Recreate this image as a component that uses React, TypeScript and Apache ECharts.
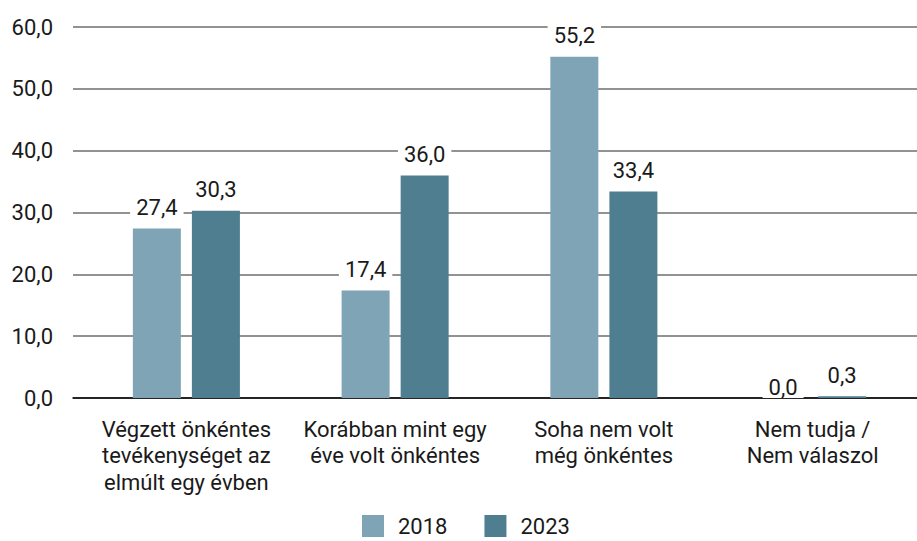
import React, { useEffect, useRef } from "react";
import * as echarts from "echarts";

const categories = [
  "Végzett önkéntes\ntevékenységet az\nelmúlt egy évben",
  "Korábban mint egy\néve volt önkéntes",
  "Soha nem volt\nmég önkéntes",
  "Nem tudja /\nNem válaszol",
];
const seriesNames = ["2018", "2023"];
const values2018 = [27.4, 17.4, 55.2, 0.0];
const values2023 = [30.3, 36.0, 33.4, 0.3];
const yTicks = { min: 0, max: 60, interval: 10 };

const FONT = "Roboto, 'Noto Sans', sans-serif";
const COLORS = ["#7fa4b6", "#4f7e91"];
const FS = 22;

const fmt = (v: number) => v.toFixed(1).replace(".", ",");

export default function App() {
  const ref = useRef<HTMLDivElement>(null);
  useEffect(() => {
    if (!ref.current) return;
    const chart = echarts.init(ref.current, undefined, { renderer: "svg" });
    const labelCfg = {
      show: true,
      position: "top",
      distance: 8,
      fontFamily: FONT,
      fontSize: FS,
      color: "#1a1a1a",
      backgroundColor: "#ffffff",
      padding: [2, 6],
      formatter: (p: any) => fmt(p.value),
    };
    const mkData = (arr: number[]) =>
      arr.map((v) => (v === 0 ? { value: v, label: { distance: 0, padding: [0, 6] } } : { value: v }));
    chart.setOption({
      animation: false,
      textStyle: { fontFamily: FONT },
      grid: [
        { left: 73, right: 0, top: 27, height: 371 },
        { left: 82, right: -3, top: 27, height: 371 },
      ],
      legend: {
        data: seriesNames,
        left: 362,
        top: 515,
        padding: 0,
        itemWidth: 22,
        itemHeight: 22,
        itemGap: 37,
        icon: "rect",
        textStyle: { fontFamily: FONT, fontSize: FS, color: "#1a1a1a", padding: [0, 0, 0, 9], lineHeight: 22 },
      },
      xAxis: [
        {
          gridIndex: 0,
          type: "category",
          data: [""],
          axisLine: { show: true, lineStyle: { color: "#000", width: 1.5 } },
          axisTick: { show: false },
          axisLabel: { show: false },
        },
        {
          gridIndex: 1,
          type: "category",
          data: categories,
          axisLine: { show: false },
          axisTick: { show: false },
          axisLabel: {
            margin: 18,
            fontFamily: FONT,
            fontSize: FS,
            lineHeight: 26.5,
            color: "#1a1a1a",
            interval: 0,
          },
        },
      ],
      yAxis: [
        {
          gridIndex: 0,
          type: "value",
          min: yTicks.min,
          max: yTicks.max,
          interval: yTicks.interval,
          axisLine: { show: false },
          axisTick: { show: false },
          axisLabel: {
            margin: 20,
            fontFamily: FONT,
            fontSize: FS,
            color: "#1a1a1a",
            formatter: (v: number) => fmt(v),
          },
          splitLine: { show: true, lineStyle: { color: "#6e6e6e", width: 1.5 } },
        },
        {
          gridIndex: 1,
          type: "value",
          min: yTicks.min,
          max: yTicks.max,
          interval: yTicks.interval,
          show: false,
          splitLine: { show: false },
        },
      ],
      series: [
        {
          name: seriesNames[0],
          type: "bar",
          xAxisIndex: 1,
          yAxisIndex: 1,
          data: mkData(values2018),
          barWidth: 48,
          barGap: "23%",
          itemStyle: { color: COLORS[0] },
          label: labelCfg,
          z: 3,
        },
        {
          name: seriesNames[1],
          type: "bar",
          xAxisIndex: 1,
          yAxisIndex: 1,
          data: mkData(values2023),
          barWidth: 48,
          barGap: "23%",
          itemStyle: { color: COLORS[1] },
          label: labelCfg,
          z: 3,
        },
      ],
    });
    return () => chart.dispose();
  }, []);
  return (
    <div
      ref={ref}
      style={{ position: "fixed", left: 0, top: 0, width: 917, height: 541, background: "#fff" }}
    />
  );
}
